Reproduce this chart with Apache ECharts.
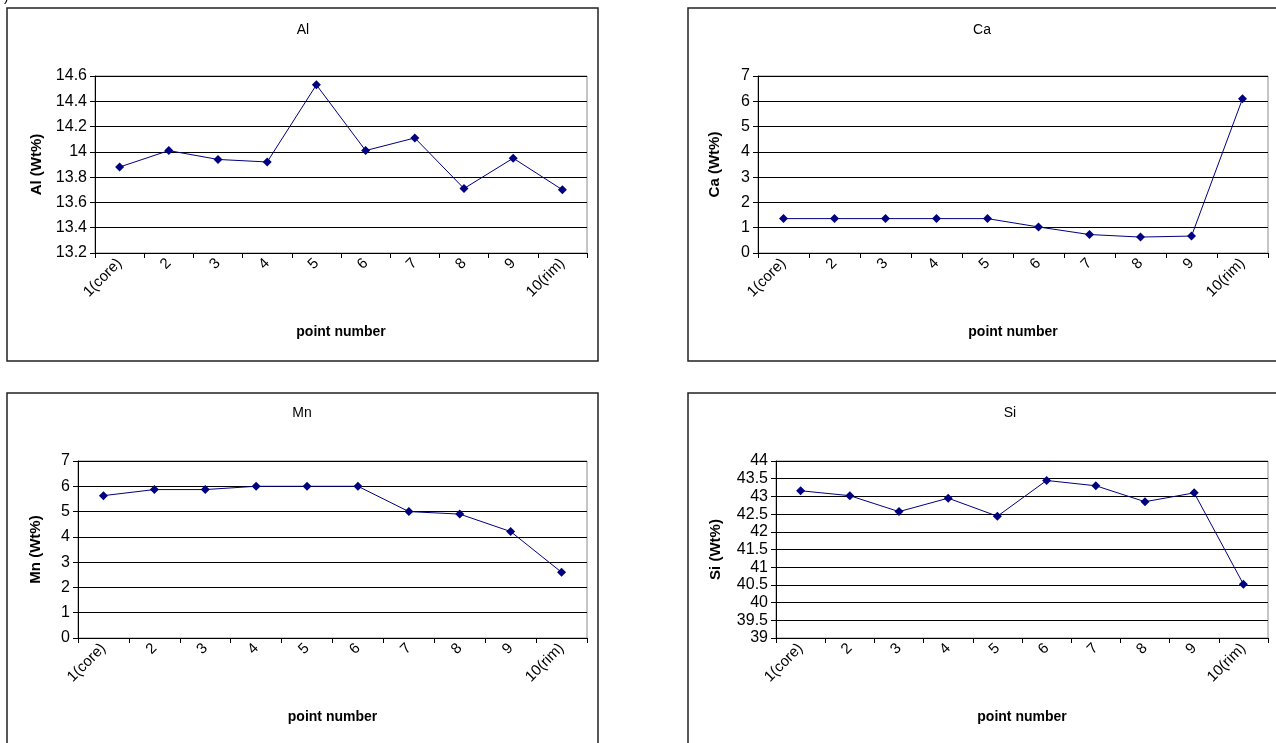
<!DOCTYPE html>
<html>
<head>
<meta charset="utf-8">
<script src="https://cdn.jsdelivr.net/npm/echarts@6/dist/echarts.min.js"></script>
<style>
  html, body { margin: 0; padding: 0; background: #fff; }
  #chart { width: 1276px; height: 743px; }
</style>
</head>
<body>
<div id="chart"></div>
<script>
// Point numbers along the traverse, core to rim
const categories = ['1(core)', '2', '3', '4', '5', '6', '7', '8', '9', '10(rim)'];

// Element concentrations (Wt%)
const alValues = [13.88, 14.01, 13.94, 13.92, 14.53, 14.01, 14.11, 13.71, 13.95, 13.70];
const caValues = [1.36, 1.36, 1.36, 1.36, 1.36, 1.03, 0.73, 0.63, 0.67, 6.10];
const mnValues = [5.63, 5.87, 5.87, 6.00, 6.00, 6.00, 5.00, 4.90, 4.21, 2.60];
const siValues = [43.16, 43.02, 42.57, 42.95, 42.44, 43.45, 43.30, 42.85, 43.10, 40.52];

// Value axis ranges: [min, max, interval]
const alAxis = [13.2, 14.6, 0.2];
const caAxis = [0, 7, 1];
const mnAxis = [0, 7, 1];
const siAxis = [39, 44, 0.5];

const FONT = 'Liberation Sans';
const LINE = '#000080';

const panels = [
  { name: 'Al', values: alValues, axis: alAxis,
    grid: { left: 95, top: 76, width: 492, height: 177 }, titlePos: [303, 30], nameGap: 51 },
  { name: 'Ca', values: caValues, axis: caAxis,
    grid: { left: 758, top: 76, width: 510, height: 177 }, titlePos: [982, 30], nameGap: 36 },
  { name: 'Mn', values: mnValues, axis: mnAxis,
    grid: { left: 78, top: 461, width: 509, height: 177 }, titlePos: [302, 413], nameGap: 35 },
  { name: 'Si', values: siValues, axis: siAxis,
    grid: { left: 776, top: 461, width: 492, height: 177 }, titlePos: [1010, 413], nameGap: 53 }
];

const grids = [], xAxes = [], yAxes = [], series = [], graphics = [];

// Chart-area frames
const frames = [
  [7, 8, 591, 353],
  [688, 8, 600, 353],
  [7, 393, 591, 360],
  [688, 393, 600, 360]
];
frames.forEach(f => graphics.push({
  type: 'rect', shape: { x: f[0], y: f[1], width: f[2], height: f[3] },
  style: { fill: null, stroke: '#222', lineWidth: 1.5 }, z: 10
}));

// Partially visible panel tag above the first frame
graphics.push({
  type: 'text', x: 4, y: -10,
  style: { text: ')', font: '14px ' + FONT, fill: '#000' }
});

panels.forEach((p, i) => {
  grids.push(Object.assign({ show: true, borderColor: '#8c8c8c', borderWidth: 1,
    backgroundColor: '#fff', containLabel: false }, p.grid));

  graphics.push({
    type: 'text', x: p.titlePos[0], y: p.titlePos[1],
    style: { text: p.name, font: '14px ' + FONT, fill: '#000',
      textAlign: 'center', textVerticalAlign: 'middle' }
  });

  xAxes.push({
    type: 'category', gridIndex: i, data: categories, boundaryGap: true,
    name: 'point number', nameLocation: 'middle', nameGap: 72,
    nameTextStyle: { fontFamily: FONT, fontSize: 14, fontWeight: 'bold', color: '#000' },
    axisLine: { lineStyle: { color: '#000', width: 1 } },
    axisTick: { show: true, length: 5, lineStyle: { color: '#000' } },
    axisLabel: { interval: 0, rotate: 45, fontFamily: FONT, fontSize: 15, color: '#000', margin: 8 },
    splitLine: { show: false }
  });

  yAxes.push({
    type: 'value', gridIndex: i,
    min: p.axis[0], max: p.axis[1], interval: p.axis[2],
    name: p.name + ' (Wt%)', nameLocation: 'middle', nameGap: p.nameGap,
    nameTextStyle: { fontFamily: FONT, fontSize: 15, fontWeight: 'bold', color: '#000' },
    axisLine: { show: true, lineStyle: { color: '#000', width: 1 } },
    axisTick: { show: true, length: 5, lineStyle: { color: '#000' } },
    axisLabel: { fontFamily: FONT, fontSize: 16, color: '#000', margin: 8 },
    splitLine: { show: true, lineStyle: { color: '#000', width: 1 } }
  });

  series.push({
    type: 'line', name: p.name, xAxisIndex: i, yAxisIndex: i,
    data: p.values,
    symbol: 'diamond', symbolSize: 9,
    lineStyle: { color: LINE, width: 1 },
    itemStyle: { color: LINE },
    animation: false
  });
});

const chart = echarts.init(document.getElementById('chart'), null, { renderer: 'canvas' });
chart.setOption({
  backgroundColor: '#fff',
  animation: false,
  grid: grids,
  xAxis: xAxes,
  yAxis: yAxes,
  series: series,
  graphic: graphics
});
</script>
</body>
</html>
